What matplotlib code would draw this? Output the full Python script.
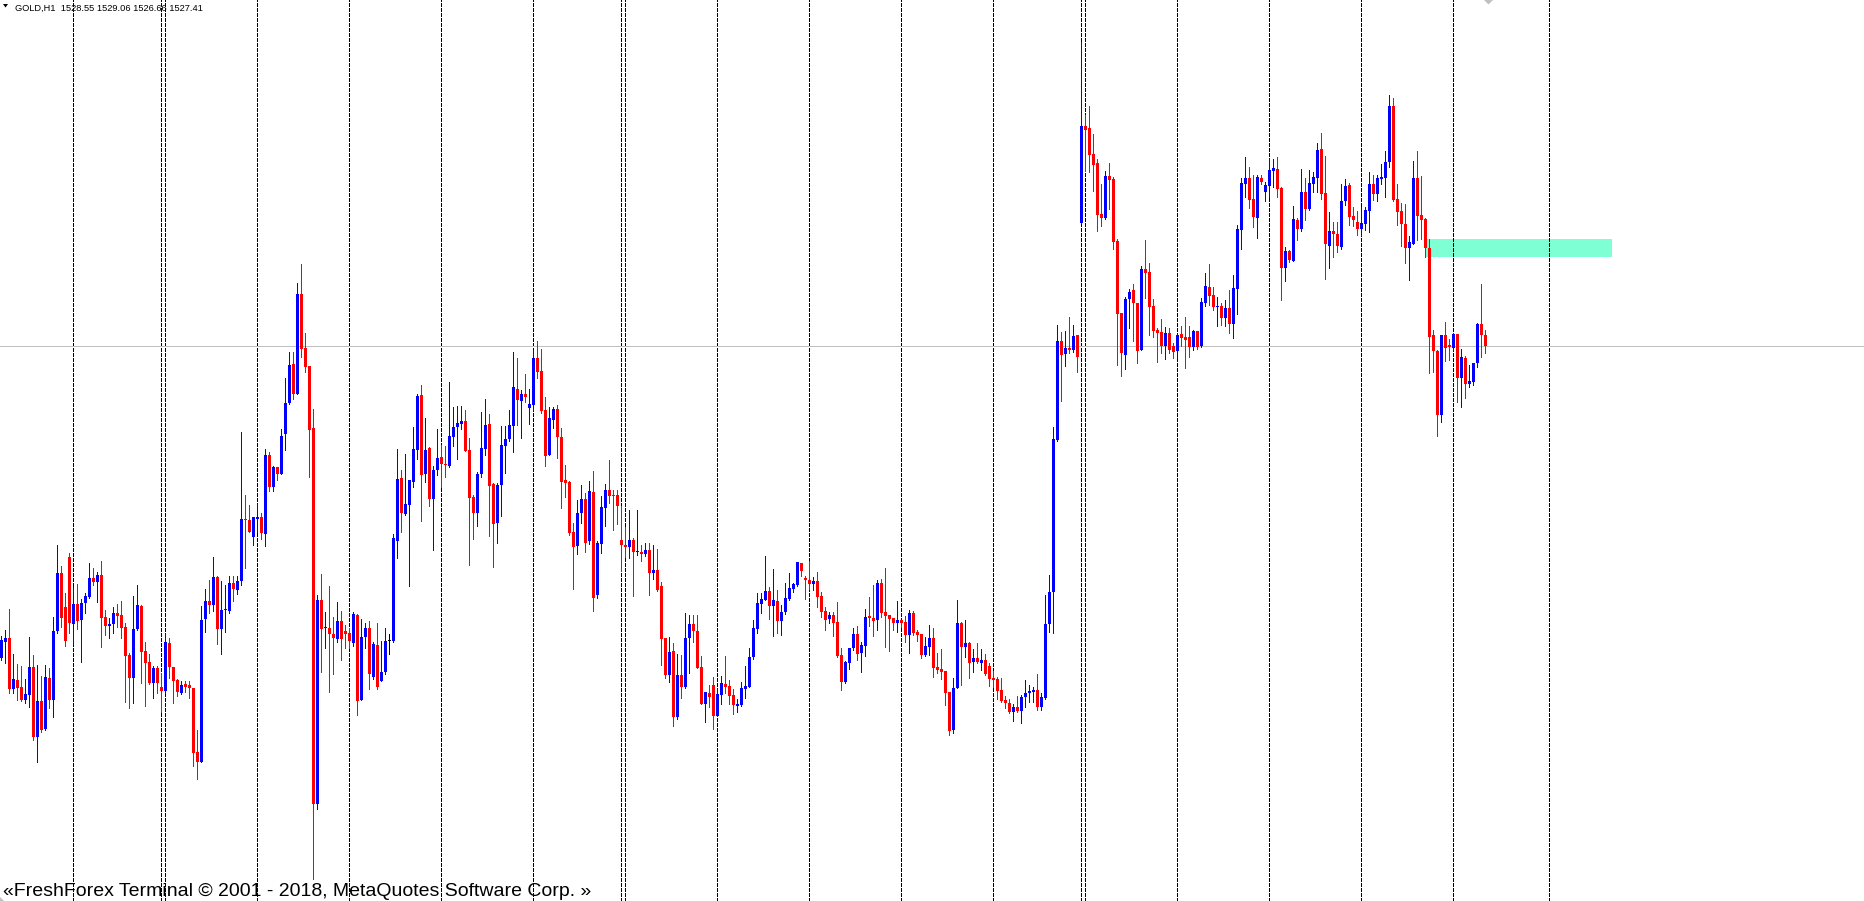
import matplotlib
matplotlib.use('Agg')
import matplotlib.pyplot as plt
from matplotlib.patches import Rectangle, Polygon
from matplotlib.lines import Line2D

# GOLD H1 candles (oldest first)
opens = [
    1496.2, 1497.8, 1498.2, 1493.1, 1494.0, 1493.3, 1492.0, 1492.5, 1495.3, 1488.3,
    1491.9, 1489.1, 1494.2, 1492.0, 1498.9, 1504.7, 1501.3, 1506.3, 1499.6, 1501.6,
    1500.0, 1501.7, 1502.3, 1504.2, 1503.8, 1504.5, 1500.3, 1499.4, 1499.6, 1500.7,
    1500.5, 1499.3, 1496.5, 1494.2, 1499.1, 1501.4, 1496.9, 1495.8, 1493.7, 1495.2,
    1493.3, 1492.9, 1497.7, 1495.3, 1494.0, 1492.7, 1493.6, 1493.5, 1493.2, 1486.8,
    1485.8, 1500.1, 1501.9, 1501.5, 1504.3, 1499.1, 1501.0, 1500.9, 1503.7, 1503.0,
    1503.9, 1510.1, 1510.0, 1508.3, 1510.1, 1510.3, 1508.6, 1516.5, 1513.3, 1515.3,
    1514.6, 1518.6, 1521.7, 1525.6, 1522.6, 1532.6, 1527.2, 1525.4, 1519.2, 1481.6,
    1502.0, 1499.2, 1499.2, 1498.6, 1498.1, 1499.9, 1498.9, 1498.7, 1497.7, 1500.5,
    1492.0, 1498.3, 1499.2, 1494.3, 1497.5, 1493.9, 1494.8, 1497.9, 1497.9, 1507.9,
    1514.2, 1510.6, 1511.5, 1513.8, 1517.0, 1522.5, 1514.6, 1517.2, 1512.1, 1515.0,
    1516.3, 1515.6, 1515.4, 1518.3, 1519.3, 1519.6, 1519.9, 1517.0, 1512.3, 1510.7,
    1514.6, 1517.1, 1519.6, 1513.6, 1509.7, 1513.5, 1517.4, 1518.1, 1519.4, 1523.1,
    1521.9, 1522.6, 1521.2, 1521.5, 1526.2, 1524.9, 1521.0, 1516.5, 1520.0, 1521.1,
    1518.3, 1514.0, 1513.8, 1508.8, 1507.4, 1510.7, 1512.1, 1507.9, 1512.8, 1502.5,
    1507.6, 1511.2, 1513.0, 1512.5, 1512.5, 1508.0, 1507.5, 1507.3, 1508.0, 1506.8,
    1506.8, 1506.6, 1507.0, 1504.7, 1505.0, 1503.4, 1498.2, 1494.5, 1496.9, 1490.3,
    1494.5, 1493.3, 1498.2, 1499.6, 1498.9, 1495.3, 1491.6, 1492.7, 1493.5, 1490.4,
    1492.5, 1493.6, 1493.4, 1492.5, 1491.4, 1491.5, 1493.1, 1493.3, 1496.3, 1499.1,
    1501.6, 1502.0, 1502.9, 1501.4, 1501.9, 1499.9, 1500.8, 1502.1, 1503.1, 1503.5,
    1505.7, 1504.2, 1504.0, 1503.6, 1503.9, 1502.4, 1500.9, 1500.1, 1500.5, 1499.8,
    1496.5, 1493.8, 1495.7, 1497.2, 1498.6, 1496.7, 1497.4, 1500.4, 1500.2, 1500.0,
    1503.7, 1500.8, 1500.5, 1500.2, 1499.7, 1500.0, 1499.8, 1498.5, 1500.7, 1498.8,
    1498.6, 1496.5, 1497.3, 1498.2, 1495.3, 1495.1, 1494.9, 1492.8, 1489.0, 1493.2,
    1499.7, 1497.3, 1497.7, 1495.8, 1496.2, 1495.7, 1496.0, 1495.4, 1494.2, 1494.1,
    1493.0, 1492.0, 1491.7, 1490.8, 1491.3, 1490.9, 1492.3, 1492.7, 1492.8, 1493.0,
    1491.3, 1492.2, 1499.6, 1502.8, 1518.0, 1527.9, 1526.6, 1527.2, 1527.0, 1528.5,
    1539.7, 1549.4, 1549.2, 1546.6, 1545.7, 1540.6, 1540.2, 1544.4, 1544.1, 1537.9,
    1530.7, 1526.5, 1532.1, 1533.0, 1531.7, 1527.0, 1535.1, 1534.8, 1531.4, 1529.0,
    1528.8, 1527.4, 1528.7, 1527.4, 1526.9, 1528.6, 1528.3, 1528.3, 1527.3, 1528.9,
    1527.4, 1531.7, 1533.3, 1532.5, 1531.3, 1531.4, 1530.2, 1531.2, 1529.6, 1533.1,
    1539.0, 1543.6, 1544.2, 1542.1, 1540.2, 1544.2, 1542.8, 1543.4, 1544.9, 1545.1,
    1543.2, 1535.2, 1536.9, 1535.9, 1540.0, 1539.1, 1542.8, 1541.1, 1543.6, 1544.2,
    1547.1, 1542.7, 1537.4, 1538.9, 1538.6, 1537.3, 1541.9, 1543.5, 1540.4, 1539.8,
    1539.1, 1539.6, 1540.9, 1543.6, 1542.6, 1544.1, 1544.2, 1545.8, 1551.4, 1542.1,
    1540.9, 1539.6, 1537.2, 1537.6, 1544.2, 1540.5, 1540.1, 1537.2, 1528.5, 1526.9,
    1520.5, 1528.5, 1527.5, 1527.2, 1528.6, 1524.2, 1526.2, 1523.6, 1523.8, 1525.7,
    1529.6, 1528.55,
]
highs = [
    1498.4, 1499.0, 1501.1, 1496.6, 1495.6, 1495.4, 1494.1, 1498.3, 1496.5, 1495.5,
    1494.4, 1495.5, 1495.2, 1500.3, 1507.5, 1505.4, 1502.7, 1506.7, 1503.3, 1503.6,
    1502.1, 1502.7, 1505.7, 1505.2, 1504.8, 1505.9, 1501.0, 1500.2, 1501.3, 1501.6,
    1501.9, 1499.7, 1496.7, 1502.4, 1503.5, 1501.5, 1497.8, 1496.6, 1495.4, 1495.4,
    1494.7, 1498.6, 1498.2, 1495.3, 1494.1, 1493.9, 1493.9, 1493.9, 1493.2, 1489.0,
    1501.4, 1503.1, 1504.0, 1506.3, 1504.4, 1503.9, 1503.5, 1504.4, 1504.4, 1504.4,
    1518.8, 1512.5, 1511.5, 1510.3, 1511.6, 1510.7, 1517.1, 1516.8, 1515.4, 1515.3,
    1519.1, 1524.2, 1526.8, 1526.8, 1533.7, 1535.6, 1528.7, 1525.4, 1521.1, 1502.5,
    1504.6, 1500.8, 1503.4, 1500.3, 1501.8, 1500.9, 1499.5, 1499.2, 1500.8, 1500.6,
    1500.1, 1499.7, 1499.9, 1497.8, 1499.7, 1497.9, 1499.2, 1498.6, 1508.6, 1517.1,
    1515.0, 1516.6, 1514.0, 1519.3, 1522.6, 1523.5, 1520.2, 1517.3, 1515.4, 1519.1,
    1517.5, 1517.4, 1523.8, 1521.3, 1521.4, 1521.4, 1521.0, 1518.2, 1512.5, 1514.8,
    1520.8, 1522.1, 1520.6, 1513.7, 1513.7, 1519.4, 1519.4, 1521.0, 1526.8, 1526.2,
    1523.0, 1524.6, 1523.1, 1527.0, 1527.9, 1527.1, 1522.3, 1521.3, 1521.3, 1521.5,
    1519.2, 1515.5, 1513.9, 1509.7, 1512.0, 1513.5, 1512.7, 1513.9, 1514.9, 1507.9,
    1512.4, 1513.6, 1516.0, 1513.0, 1513.0, 1511.4, 1509.3, 1511.0, 1508.2, 1511.0,
    1507.5, 1507.7, 1507.7, 1507.5, 1507.1, 1503.8, 1498.2, 1498.3, 1497.7, 1496.6,
    1496.5, 1500.7, 1500.5, 1500.5, 1500.5, 1496.4, 1492.8, 1493.5, 1494.3, 1493.1,
    1494.4, 1496.4, 1494.0, 1493.1, 1492.1, 1493.8, 1495.4, 1497.2, 1500.0, 1502.7,
    1502.7, 1506.4, 1503.3, 1505.1, 1503.0, 1501.5, 1503.7, 1504.7, 1503.7, 1505.8,
    1505.7, 1504.4, 1505.9, 1504.3, 1504.8, 1502.8, 1501.3, 1500.8, 1500.8, 1501.8,
    1497.2, 1495.9, 1497.2, 1499.2, 1499.4, 1497.8, 1501.1, 1502.3, 1503.5, 1504.0,
    1504.1, 1505.2, 1500.5, 1500.2, 1501.9, 1500.0, 1500.4, 1501.0, 1500.9, 1499.0,
    1498.6, 1498.3, 1499.5, 1499.2, 1496.7, 1497.1, 1494.9, 1492.8, 1494.2, 1502.0,
    1499.8, 1500.0, 1497.8, 1497.1, 1497.7, 1497.1, 1496.6, 1495.7, 1494.9, 1494.3,
    1494.2, 1492.4, 1492.1, 1491.6, 1492.4, 1492.5, 1494.0, 1493.5, 1493.3, 1494.6,
    1492.7, 1502.5, 1504.5, 1519.3, 1529.5, 1528.8, 1528.9, 1530.3, 1529.5, 1528.5,
    1557.8, 1550.5, 1551.4, 1548.6, 1546.1, 1543.6, 1544.9, 1545.7, 1544.3, 1538.1,
    1530.7, 1532.3, 1533.1, 1533.6, 1531.7, 1535.4, 1538.0, 1535.7, 1532.1, 1529.2,
    1530.1, 1529.3, 1529.2, 1527.7, 1528.6, 1529.4, 1530.3, 1529.4, 1529.0, 1528.9,
    1532.2, 1534.7, 1535.6, 1533.3, 1532.3, 1531.7, 1532.0, 1533.0, 1534.5, 1539.5,
    1544.2, 1546.3, 1545.3, 1544.5, 1544.5, 1544.5, 1543.8, 1546.1, 1546.1, 1546.3,
    1543.3, 1537.3, 1537.0, 1541.4, 1540.2, 1545.1, 1544.2, 1545.0, 1544.8, 1547.7,
    1548.7, 1546.4, 1540.8, 1539.8, 1539.8, 1543.6, 1544.1, 1543.7, 1541.3, 1540.9,
    1541.3, 1541.3, 1544.8, 1544.5, 1544.5, 1545.6, 1546.9, 1552.5, 1552.2, 1543.6,
    1541.7, 1541.6, 1538.4, 1545.9, 1546.9, 1544.4, 1540.2, 1538.1, 1529.0, 1527.0,
    1528.5, 1529.8, 1528.1, 1528.7, 1528.6, 1527.1, 1526.4, 1525.5, 1525.7, 1529.7,
    1533.6, 1529.06,
]
lows = [
    1496.0, 1495.7, 1492.7, 1492.7, 1492.0, 1491.9, 1491.7, 1491.3, 1488.0, 1485.8,
    1488.8, 1489.0, 1491.2, 1490.3, 1498.7, 1499.3, 1497.4, 1498.7, 1497.6, 1499.1,
    1495.8, 1500.7, 1502.2, 1503.5, 1501.8, 1497.3, 1498.5, 1498.2, 1498.7, 1499.3,
    1498.2, 1491.8, 1491.2, 1491.7, 1499.0, 1493.7, 1491.4, 1493.6, 1492.2, 1492.7,
    1490.8, 1492.7, 1494.2, 1491.7, 1492.4, 1492.6, 1492.8, 1492.2, 1485.4, 1484.1,
    1485.8, 1498.8, 1500.7, 1500.9, 1497.6, 1496.6, 1498.8, 1500.7, 1501.9, 1502.6,
    1503.5, 1505.2, 1508.8, 1507.5, 1508.8, 1508.1, 1507.4, 1512.9, 1512.9, 1514.0,
    1514.6, 1517.0, 1521.6, 1522.1, 1522.6, 1526.3, 1524.8, 1514.3, 1474.1, 1481.1,
    1494.8, 1497.2, 1492.8, 1494.6, 1497.8, 1496.0, 1497.2, 1497.2, 1497.4, 1490.5,
    1492.0, 1497.2, 1493.1, 1494.1, 1493.1, 1493.9, 1494.6, 1496.6, 1497.8, 1506.2,
    1508.8, 1510.5, 1503.4, 1513.3, 1516.1, 1509.9, 1513.8, 1511.4, 1507.0, 1514.5,
    1513.3, 1514.3, 1515.3, 1517.4, 1516.1, 1519.1, 1516.9, 1505.5, 1508.1, 1509.4,
    1514.3, 1516.5, 1508.4, 1505.3, 1507.7, 1510.4, 1514.7, 1517.9, 1516.8, 1519.5,
    1518.2, 1521.8, 1519.6, 1521.0, 1524.2, 1520.7, 1515.4, 1516.5, 1519.2, 1516.2,
    1511.2, 1512.3, 1508.5, 1503.1, 1506.6, 1509.7, 1506.8, 1507.6, 1500.9, 1502.2,
    1506.7, 1509.4, 1511.7, 1509.0, 1509.6, 1504.9, 1506.3, 1506.2, 1502.4, 1506.5,
    1505.9, 1506.4, 1502.5, 1504.1, 1502.9, 1495.5, 1494.2, 1493.8, 1489.4, 1490.1,
    1492.2, 1493.2, 1494.7, 1497.8, 1495.2, 1491.6, 1489.8, 1491.3, 1489.1, 1490.4,
    1491.6, 1492.7, 1491.6, 1490.6, 1490.8, 1491.4, 1492.2, 1493.3, 1496.1, 1498.7,
    1500.7, 1502.0, 1500.1, 1498.4, 1498.7, 1498.5, 1500.6, 1502.0, 1502.8, 1503.4,
    1504.4, 1502.1, 1503.1, 1503.0, 1501.3, 1500.3, 1499.0, 1499.7, 1498.4, 1496.3,
    1493.0, 1493.7, 1495.1, 1497.0, 1496.0, 1494.8, 1496.4, 1499.4, 1498.4, 1499.0,
    1500.3, 1497.3, 1496.9, 1499.0, 1498.8, 1499.3, 1497.8, 1496.7, 1498.5, 1497.9,
    1496.2, 1496.4, 1496.5, 1494.3, 1494.7, 1494.1, 1491.5, 1488.5, 1488.7, 1493.2,
    1493.5, 1496.3, 1494.2, 1494.8, 1495.7, 1495.0, 1494.5, 1493.4, 1493.3, 1492.1,
    1491.8, 1491.2, 1490.7, 1489.9, 1490.8, 1489.7, 1491.3, 1491.8, 1491.8, 1491.0,
    1491.0, 1492.1, 1498.8, 1498.7, 1517.9, 1521.9, 1525.4, 1526.7, 1526.8, 1524.8,
    1539.7, 1544.9, 1544.8, 1542.9, 1538.9, 1539.4, 1540.1, 1541.1, 1537.1, 1525.5,
    1524.4, 1525.1, 1529.2, 1527.9, 1525.7, 1527.0, 1532.2, 1528.5, 1528.3, 1525.8,
    1526.7, 1526.1, 1526.7, 1526.2, 1526.2, 1527.4, 1525.2, 1526.3, 1527.0, 1527.1,
    1527.3, 1531.4, 1531.5, 1531.0, 1529.4, 1529.5, 1529.4, 1528.7, 1528.2, 1530.6,
    1537.1, 1542.3, 1541.2, 1539.3, 1538.2, 1543.6, 1541.9, 1542.3, 1543.3, 1542.3,
    1532.0, 1533.9, 1535.8, 1535.9, 1538.0, 1538.9, 1540.0, 1541.0, 1542.8, 1542.8,
    1542.1, 1534.1, 1535.2, 1536.3, 1536.8, 1537.1, 1541.5, 1539.5, 1539.4, 1538.5,
    1538.5, 1539.0, 1538.8, 1542.0, 1541.9, 1543.6, 1542.3, 1545.3, 1541.9, 1539.5,
    1537.4, 1535.7, 1534.0, 1537.6, 1538.0, 1538.1, 1536.3, 1524.7, 1524.8, 1518.4,
    1519.8, 1525.9, 1526.0, 1527.0, 1521.8, 1521.3, 1522.2, 1523.3, 1523.5, 1525.3,
    1526.3, 1526.66,
]
closes = [
    1498.0, 1498.2, 1493.1, 1494.1, 1493.2, 1492.0, 1492.6, 1495.3, 1488.3, 1491.9,
    1489.0, 1494.3, 1492.0, 1498.9, 1504.7, 1500.2, 1497.9, 1499.7, 1501.6, 1499.9,
    1501.7, 1502.4, 1504.2, 1503.8, 1504.5, 1500.2, 1499.4, 1499.6, 1500.7, 1500.4,
    1499.2, 1496.4, 1494.2, 1499.1, 1501.5, 1496.8, 1495.7, 1493.7, 1495.2, 1493.7,
    1492.9, 1497.8, 1495.3, 1493.9, 1492.8, 1493.5, 1493.3, 1493.2, 1486.7, 1485.8,
    1500.0, 1501.9, 1501.5, 1504.3, 1499.1, 1501.0, 1501.1, 1503.7, 1503.1, 1503.9,
    1510.1, 1510.0, 1508.8, 1510.3, 1510.3, 1508.7, 1516.5, 1513.3, 1515.3, 1514.6,
    1518.4, 1521.7, 1525.5, 1522.6, 1532.6, 1527.1, 1525.3, 1519.0, 1481.6, 1502.0,
    1499.1, 1499.3, 1498.6, 1498.2, 1499.9, 1498.1, 1498.6, 1497.9, 1500.6, 1491.9,
    1498.3, 1499.2, 1494.6, 1497.6, 1493.3, 1494.8, 1497.9, 1497.9, 1508.2, 1514.1,
    1510.7, 1511.6, 1514.0, 1517.1, 1522.4, 1514.5, 1517.0, 1512.1, 1515.0, 1516.2,
    1515.6, 1515.5, 1518.4, 1519.3, 1519.7, 1519.9, 1516.9, 1512.2, 1510.7, 1514.6,
    1517.2, 1519.5, 1513.4, 1509.6, 1513.5, 1517.5, 1518.1, 1519.5, 1523.3, 1522.0,
    1522.6, 1522.3, 1521.6, 1526.2, 1524.8, 1520.9, 1516.4, 1520.2, 1521.1, 1518.3,
    1513.8, 1513.7, 1508.7, 1507.3, 1510.7, 1512.1, 1507.7, 1512.9, 1502.2, 1507.7,
    1511.3, 1513.0, 1512.4, 1512.4, 1511.4, 1507.5, 1507.3, 1508.0, 1506.8, 1506.9,
    1506.6, 1507.0, 1504.7, 1505.0, 1503.0, 1498.1, 1494.5, 1496.8, 1490.3, 1494.5,
    1493.3, 1498.2, 1499.6, 1498.9, 1495.2, 1491.6, 1492.8, 1492.3, 1490.4, 1492.6,
    1493.7, 1493.3, 1492.4, 1491.5, 1491.6, 1493.2, 1493.4, 1496.3, 1499.2, 1501.7,
    1502.1, 1502.9, 1501.4, 1502.0, 1499.9, 1500.8, 1502.2, 1503.2, 1503.6, 1505.8,
    1504.9, 1504.0, 1503.6, 1503.9, 1502.3, 1500.8, 1500.0, 1500.5, 1499.7, 1496.4,
    1493.8, 1495.8, 1497.2, 1498.6, 1496.6, 1497.5, 1500.3, 1500.2, 1499.9, 1503.7,
    1500.7, 1500.4, 1500.1, 1499.7, 1500.0, 1499.7, 1498.5, 1500.7, 1498.7, 1498.5,
    1496.5, 1497.4, 1498.2, 1495.2, 1495.0, 1494.8, 1492.7, 1488.9, 1493.2, 1499.7,
    1497.3, 1497.7, 1495.7, 1496.2, 1495.8, 1496.0, 1494.6, 1494.1, 1494.0, 1492.9,
    1491.9, 1491.7, 1490.8, 1491.3, 1490.9, 1492.3, 1492.7, 1492.9, 1493.0, 1491.3,
    1492.3, 1499.6, 1502.8, 1518.1, 1527.9, 1526.5, 1527.2, 1527.0, 1528.4, 1526.3,
    1549.4, 1549.0, 1546.5, 1545.5, 1540.5, 1540.2, 1544.4, 1544.0, 1537.8, 1530.6,
    1526.7, 1532.1, 1532.8, 1531.7, 1526.9, 1535.1, 1534.7, 1531.3, 1528.9, 1528.7,
    1527.4, 1528.7, 1527.0, 1526.8, 1528.5, 1528.2, 1528.0, 1527.3, 1528.9, 1527.3,
    1531.8, 1533.4, 1532.4, 1531.3, 1531.4, 1530.2, 1531.2, 1529.6, 1533.2, 1539.1,
    1543.7, 1544.2, 1542.0, 1540.3, 1544.3, 1543.8, 1543.5, 1545.0, 1545.2, 1543.1,
    1535.2, 1536.9, 1536.0, 1540.1, 1539.1, 1542.8, 1541.1, 1543.7, 1544.3, 1547.0,
    1542.6, 1537.6, 1538.9, 1538.6, 1537.4, 1541.9, 1543.4, 1540.3, 1540.0, 1539.1,
    1539.7, 1541.0, 1543.6, 1542.6, 1544.2, 1544.3, 1545.8, 1551.4, 1542.0, 1540.8,
    1539.6, 1537.2, 1537.8, 1544.2, 1540.4, 1540.0, 1537.2, 1528.3, 1526.9, 1520.5,
    1528.5, 1527.2, 1527.3, 1528.6, 1524.2, 1526.3, 1523.6, 1523.9, 1525.7, 1529.6,
    1528.5, 1527.41,
]

# bar indices of the day separators (last one lies in the empty shift area)
separators = [18, 40, 41, 64, 87, 110, 133, 155, 156, 179, 202, 225,
              248, 270, 271, 294, 317, 340, 363, 387]

# rectangle object: bar from, bar to, price low, price high
zone_bars = [356.0, 402.6]
zone_prices = [1536.3, 1538.1]

header = "GOLD,H1  1528.55 1529.06 1526.66 1527.41"
footer = "\u00abFreshForex Terminal \u00a9 2001 - 2018, MetaQuotes Software Corp. \u00bb"

W, H = 1864, 901
PX = 0.72  # one pixel in points at dpi 100

fig = plt.figure(figsize=(W / 100, H / 100), dpi=100)
fig.patch.set_facecolor('white')
ax = fig.add_axes([0, 0, 1, 1])
ax.set_xlim(-0.3, -0.3 + W / 4)      # 4 px per bar
ax.set_ylim(1562.01 - H / 10, 1562.01)  # 10 px per dollar
ax.axis('off')

n = min(len(opens), len(highs), len(lows), len(closes))
xs = list(range(n))
cols = []
bottoms = []
heights = []
for i in xs:
    o, c = opens[i], closes[i]
    if c > o:
        cols.append('#0000FF')
    elif c < o:
        cols.append('#FF0000')
    else:
        cols.append('black')
    bottoms.append(min(o, c))
    heights.append(max(abs(c - o), 0.1))

# rectangle sits behind everything
ax.add_patch(Rectangle((zone_bars[0], zone_prices[0]), zone_bars[1] - zone_bars[0],
                       zone_prices[1] - zone_prices[0], facecolor='#7FFFD4',
                       edgecolor='none', zorder=0.5))

# period separators
ax.vlines(separators, 1562.01 - H / 10, 1562.01, colors='black',
          linestyles=(0, (3, 2)), linewidth=PX, zorder=1, antialiased=False)

# current price line
ax.axhline(closes[n - 1], color='#C0C0C0', linewidth=PX, zorder=1.5, antialiased=False)

# candles
ax.vlines(xs, lows[:n], highs[:n], colors=cols, linewidth=PX, zorder=2, antialiased=False)
ax.bar(xs, heights, bottom=bottoms, width=0.75, color=cols, linewidth=0,
       zorder=2.5, antialiased=False)

def fpx(x, y):
    # pixel (from top-left) to figure fraction
    return (x / W, 1 - y / H)

# small triangle before the symbol name, the shift marker, corner marker
fig.add_artist(Polygon([fpx(3, 4), fpx(8, 4), fpx(5.5, 7.5)], closed=True,
                       transform=fig.transFigure, facecolor='black', edgecolor='none'))
fig.add_artist(Polygon([fpx(1484, 0), fpx(1493, 0), fpx(1488.5, 4.5)], closed=True,
                       transform=fig.transFigure, facecolor='#C0C0C0', edgecolor='none'))
fig.add_artist(Polygon([fpx(0, 897), fpx(0, 901), fpx(4, 901)], closed=True,
                       transform=fig.transFigure, facecolor='#C0C0C0', edgecolor='none'))

fig.text(15 / W, 1 - 10.5 / H, header, fontsize=6.7, family='Liberation Sans',
         va='baseline', ha='left', color='black')
fig.text(3 / W, 1 - 896 / H, footer, fontsize=14, family='Liberation Sans',
         va='baseline', ha='left', color='black')

# window border at right and bottom
fig.add_artist(Line2D([1 - 0.5 / W, 1 - 0.5 / W], [0, 1], transform=fig.transFigure,
                      color='black', linewidth=PX))
fig.add_artist(Line2D([0, 1], [0.5 / H, 0.5 / H], transform=fig.transFigure,
                      color='black', linewidth=PX))

fig.savefig('out.png', dpi=100, facecolor='white')
